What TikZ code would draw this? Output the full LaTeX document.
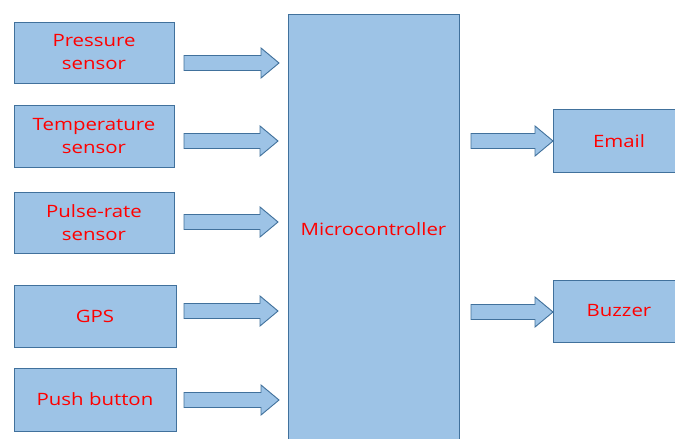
\documentclass[tikz,border=0pt]{standalone}
\usepackage{fontspec}
\setmainfont{Open Sans}[FakeStretch=1.2]
\usetikzlibrary{calc}
\definecolor{boxfill}{RGB}{157,195,230}
\definecolor{boxline}{RGB}{65,113,156}
\definecolor{labelred}{RGB}{255,0,0}
\tikzset{
  block/.style={draw=boxline, fill=boxfill, line width=1pt, inner sep=0pt,
    align=center, text=labelred, font=\fontsize{17}{23}\selectfont},
  barrow/.style={draw=boxline, fill=boxfill, line width=0.9pt, line join=miter},
}
% block arrow from #1 (tail centre) to #2 (tip)
\newcommand\blockarrow[2]{%
  \draw[barrow] let \p1=(#1), \p2=(#2) in
    (\x1,\y1+7.5) -- (\x2-18,\y1+7.5) -- (\x2-18,\y1+15) -- (\x2,\y1)
    -- (\x2-18,\y1-15) -- (\x2-18,\y1-7.5) -- (\x1,\y1-7.5) -- cycle;}
\begin{document}
\begin{tikzpicture}[x=1pt,y=-1pt]
\useasboundingbox (0,0) rectangle (675,439);
\clip (0,0) rectangle (675,439);
% inputs
\node[block, minimum width=160pt, minimum height=61pt] (pressure) at (94,52.5) {Pressure\\sensor};
\node[block, minimum width=160pt, minimum height=62pt] (temp) at (94,136) {Temperature\\sensor};
\node[block, minimum width=160pt, minimum height=61pt] (pulse) at (94,222.5) {Pulse-rate\\sensor};
\node[block, minimum width=162pt, minimum height=62pt] (gps) at (95,316) {GPS};
\node[block, minimum width=162pt, minimum height=63pt] (push) at (95,399.5) {Push button};
% controller
\node[block, minimum width=171pt, minimum height=431pt] (mcu) at (373.5,229.5) {Microcontroller};
% outputs
\node[block, minimum width=132pt, minimum height=62.5pt] (email) at (619,140.75) {Email};
\node[block, minimum width=132pt, minimum height=62pt] (buzzer) at (619,311) {Buzzer};
% arrow ends
\coordinate (a1s) at (184,63);  \coordinate (a1e) at (279,63);
\coordinate (a2s) at (184,141); \coordinate (a2e) at (278,141);
\coordinate (a3s) at (184,222); \coordinate (a3e) at (278,222);
\coordinate (a4s) at (184,311); \coordinate (a4e) at (278,311);
\coordinate (a5s) at (184,400); \coordinate (a5e) at (279,400);
\coordinate (b1s) at (471,141); \coordinate (b1e) at (553,141);
\coordinate (b2s) at (471,312); \coordinate (b2e) at (553,312);
\blockarrow{a1s}{a1e}
\blockarrow{a2s}{a2e}
\blockarrow{a3s}{a3e}
\blockarrow{a4s}{a4e}
\blockarrow{a5s}{a5e}
\blockarrow{b1s}{b1e}
\blockarrow{b2s}{b2e}
\end{tikzpicture}
\end{document}
